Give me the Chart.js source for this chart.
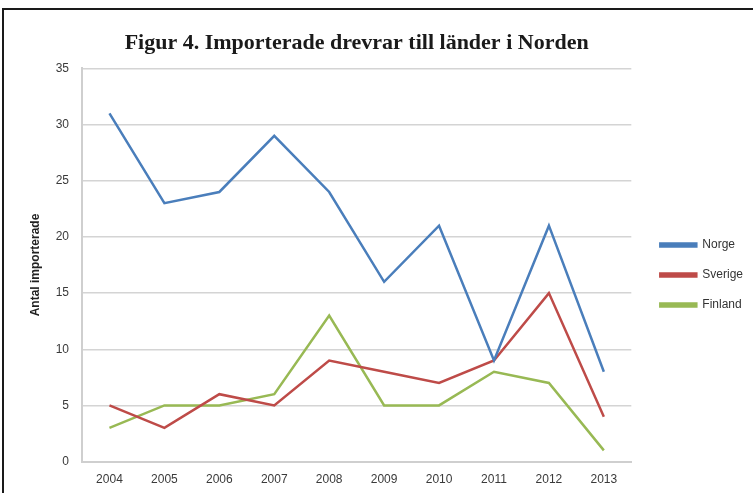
<!DOCTYPE html>
<html>
<head>
<meta charset="utf-8">
<script src="https://cdn.jsdelivr.net/npm/chart.js@4/dist/chart.umd.min.js"></script>
<style>
  html, body { margin: 0; padding: 0; background: #fff; }
  #wrap { position: relative; width: 753px; height: 493px; overflow: hidden; }
  #frame { position: absolute; left: 2px; top: 8px; width: 800px; height: 600px;
           border-top: 2px solid #1a1a1a; border-left: 2px solid #1a1a1a; }
  canvas { position: absolute; left: 0; top: 0; }
</style>
</head>
<body>
<div id="wrap">
  <div id="frame"></div>
  <canvas id="myChart" width="753" height="493"></canvas>
</div>
<script>
  const years = ["2004", "2005", "2006", "2007", "2008", "2009", "2010", "2011", "2012", "2013"];
  const norge = [31, 23, 24, 29, 24, 16, 21, 9, 21, 8];
  const sverige = [5, 3, 6, 5, 9, 8, 7, 9, 15, 4];
  const finland = [3, 5, 5, 6, 13, 5, 5, 8, 7, 1];

  const tickFont = { family: "'Liberation Sans', sans-serif", size: 12 };

  new Chart(document.getElementById("myChart"), {
    type: "line",
    data: {
      labels: years,
      datasets: [
        { label: "Norge", data: norge, borderColor: "#4a7ebb", backgroundColor: "#4a7ebb" },
        { label: "Sverige", data: sverige, borderColor: "#be4b48", backgroundColor: "#be4b48" },
        { label: "Finland", data: finland, borderColor: "#98b954", backgroundColor: "#98b954" },
      ],
    },
    options: {
      responsive: false,
      animation: false,
      layout: { padding: { left: 28, top: 30, right: 0, bottom: -5 } },
      elements: {
        line: { borderWidth: 2.5, tension: 0 },
        point: { radius: 0 },
      },
      scales: {
        x: {
          offset: true,
          grid: { display: false, drawTicks: false },
          border: { color: "#cfcfcf", width: 2 },
          ticks: { font: tickFont, color: "#3a3a3a", padding: 11, maxRotation: 0 },
        },
        y: {
          min: 0,
          max: 35,
          afterFit: (scale) => { scale.width = 54; },
          ticks: { stepSize: 5, font: tickFont, color: "#3a3a3a", padding: 13 },
          grid: { color: "#d4d4d4", lineWidth: 1.5, drawTicks: false },
          border: { color: "#cfcfcf", width: 2 },
          title: {
            display: true,
            text: "Antal importerade",
            font: { family: "'Liberation Sans', sans-serif", size: 12, weight: "bold" },
            color: "#222",
            padding: { top: 0, bottom: 0 },
          },
        },
        // empty spacer between plot and legend
        gap: {
          position: "right",
          min: 0,
          max: 1,
          afterFit: (scale) => { scale.width = 11; },
          ticks: { display: false },
          grid: { display: false },
          border: { display: false },
        },
      },
      plugins: {
        title: {
          display: true,
          fullSize: false,
          text: "Figur 4. Importerade drevrar till länder i Norden",
          font: { family: "'Liberation Serif', serif", size: 22, weight: "bold" },
          color: "#1a1a1a",
          padding: { top: 0, bottom: 12 },
        },
        legend: {
          position: "right",
          title: {
            display: true,
            text: "",
            font: { size: 1 },
            padding: { top: 21, bottom: 0 },
          },
          labels: {
            boxWidth: 36,
            boxHeight: 3,
            padding: 18,
            font: tickFont,
            color: "#333",
          },
        },
        tooltip: { enabled: false },
      },
    },
  });
</script>
</body>
</html>
